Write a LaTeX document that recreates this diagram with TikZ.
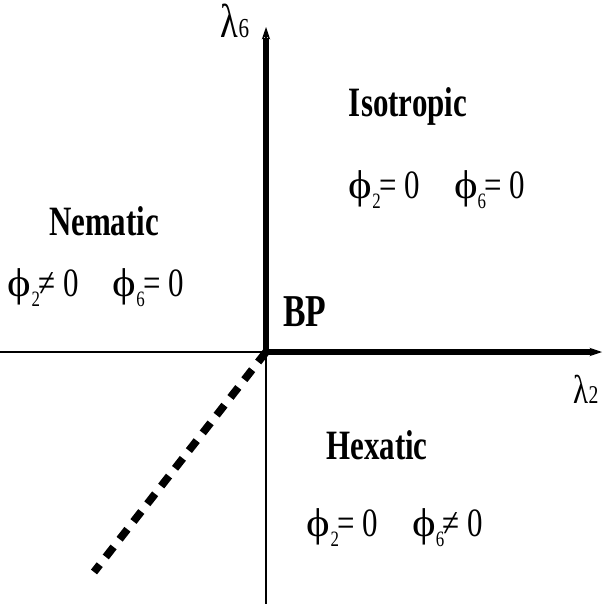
\documentclass[tikz,border=0pt]{standalone}
\usepackage{fontspec}
\usepackage{graphicx}
\setmainfont{Liberation Serif}
\usetikzlibrary{arrows.meta}
\newcommand{\sub}[1]{\raisebox{-0.55ex}{\fontsize{12}{12}\selectfont #1}}
\newcommand{\ph}{\scalebox{1.45}[1]{ϕ}}

\begin{document}
\begin{tikzpicture}[x=0.025cm,y=-0.025cm,phase/.style={font=\bfseries\fontsize{22}{26}\selectfont,inner sep=0pt,yscale=1.35},order/.style={font=\fontsize{22}{26}\selectfont,inner sep=0pt,yscale=1.3},axis/.style={line width=0.8pt},bold/.style={line width=4.2pt}]
 \useasboundingbox (0,0) rectangle (603,604);
 \coordinate (bp) at (266,352); \coordinate (xl) at (0,352); \coordinate (xr) at (602,352);
 \coordinate (yt) at (266,27); \coordinate (yb) at (266,604); \coordinate (fo) at (94,572);
 \draw[axis,-{Stealth[length=9pt,width=6pt]}] (xl)--(xr);
 \draw[axis,-{Stealth[length=9pt,width=6pt]}] (yb)--(yt);
 \draw[bold] (bp)--(592,352); \draw[bold] (266,354)--(266,38);
 \draw[line width=5.5pt,dash pattern=on 9pt off 7pt] (bp)--(fo);
 \node[order,font=\fontsize{26}{28}\selectfont] (l6) at (235,21) {λ\fontsize{15}{15}\selectfont 6};
 \node[order,font=\fontsize{22}{26}\selectfont] (l2) at (586,389) {λ\fontsize{14}{14}\selectfont 2};
 \node[phase,font=\bfseries\fontsize{24}{26}\selectfont] (bpl) at (305,312) {BP};
 \node[phase] (iso) at (408,106) {Isotropic};
 \node[order] (isoo) at (437,190) {\ph\sub{2}\kern-1pt= 0\hspace{1.1em}\ph\sub{6}\kern-1pt= 0};
 \node[phase] (nem) at (104,221) {Nematic};
 \node[order] (nemo) at (96,288) {\ph\sub{2}\kern-1pt≠ 0\hspace{1.1em}\ph\sub{6}\kern-1pt= 0};
 \node[phase] (hex) at (377,445) {Hexatic};
 \node[order] (hexo) at (395,528) {\ph\sub{2}\kern-1pt= 0\hspace{1.1em}\ph\sub{6}\kern-1pt≠ 0};
\end{tikzpicture}
\end{document}
